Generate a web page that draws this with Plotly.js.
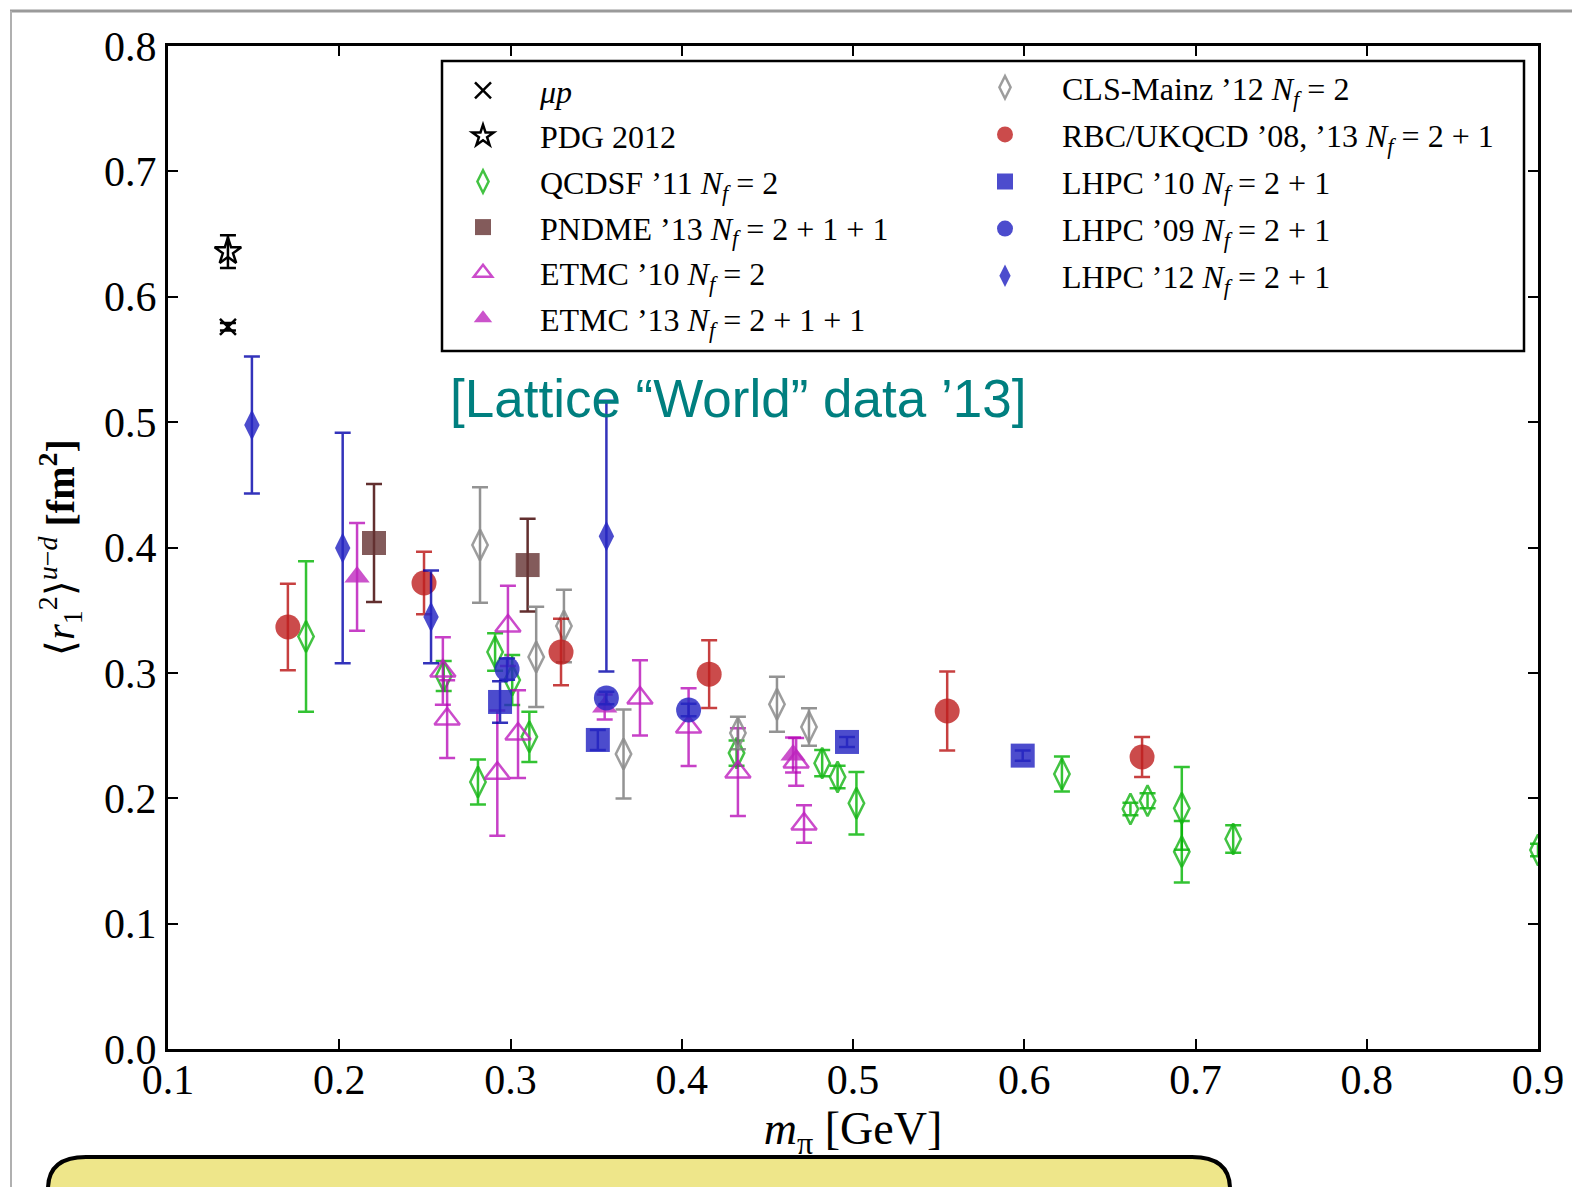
<!DOCTYPE html>
<html>
<head>
<meta charset="utf-8">
<script src="https://cdn.plot.ly/plotly-3.0.1.min.js"></script>
<style>html,body{margin:0;padding:0;background:#fff;}#chart{width:1572px;height:1187px;}</style>
</head>
<body>
<div id="chart"></div>
<script>
// ---- data ----
const muP_x = [0.135], muP_y = [0.576], muP_err = [0.003];
const pdg_x = [0.135], pdg_y = [0.636], pdg_err = [0.013];

const qcdsf_x = [0.1806, 0.2610, 0.281, 0.291, 0.301, 0.311, 0.432, 0.482, 0.491, 0.502, 0.622, 0.662, 0.672, 0.692, 0.692, 0.722, 0.900];
const qcdsf_y = [0.329, 0.2975, 0.213, 0.3166, 0.2943, 0.249, 0.236, 0.228, 0.217, 0.196, 0.2193, 0.1914, 0.198, 0.192, 0.1574, 0.1675, 0.1587];
const qcdsf_err = [0.060, 0.012, 0.018, 0.015, 0.020, 0.020, 0.010, 0.0105, 0.009, 0.025, 0.014, 0.005, 0.006, 0.033, 0.0245, 0.011, 0.005];

const pndme_x = [0.2203, 0.310];
const pndme_y = [0.4036, 0.386];
const pndme_err = [0.047, 0.037];

const etmc10_x = [0.2605, 0.263, 0.2923, 0.2985, 0.3044, 0.3756, 0.404, 0.4328, 0.4714, 0.4668];
const etmc10_y = [0.3015, 0.2632, 0.220, 0.3374, 0.2512, 0.280, 0.2568, 0.2209, 0.1795, 0.2290];
const etmc10_err = [0.027, 0.031, 0.050, 0.032, 0.035, 0.030, 0.031, 0.035, 0.015, 0.019];

const etmc13_x = [0.2104, 0.355, 0.4650];
const etmc13_y = [0.3765, 0.2728, 0.2345];
const etmc13_err = [0.043, 0.010, 0.014];

const cls_x = [0.2822, 0.315, 0.3312, 0.366, 0.4328, 0.4556, 0.4743];
const cls_y = [0.402, 0.3127, 0.3374, 0.2353, 0.252, 0.275, 0.2568];
const cls_err = [0.046, 0.040, 0.029, 0.0355, 0.013, 0.022, 0.015];

const rbc_x = [0.170, 0.2495, 0.3295, 0.416, 0.555, 0.6688];
const rbc_y = [0.3366, 0.3717, 0.3166, 0.299, 0.2696, 0.2329];
const rbc_err = [0.0345, 0.025, 0.0265, 0.027, 0.0315, 0.016];

const lhpc10_x = [0.2939, 0.351, 0.4965, 0.5991];
const lhpc10_y = [0.2768, 0.2465, 0.2449, 0.234];
const lhpc10_err = [0.0165, 0.008, 0.004, 0.004];

const lhpc09_x = [0.298, 0.356, 0.404];
const lhpc09_y = [0.303, 0.280, 0.2704];
const lhpc09_err = [0.0085, 0.005, 0.005];

const lhpc12_x = [0.149, 0.202, 0.2536, 0.356];
const lhpc12_y = [0.4977, 0.3996, 0.3446, 0.409];
const lhpc12_err = [0.0546, 0.092, 0.037, 0.108];

const xTicks = [0.1, 0.2, 0.3, 0.4, 0.5, 0.6, 0.7, 0.8, 0.9];
const yTicks = [0.0, 0.1, 0.2, 0.3, 0.4, 0.5, 0.6, 0.7, 0.8];

// ---- styles ----
const NF = '<i>N</i><sub><i>f</i></sub>';
const BLUE = 'rgba(40,40,195,0.83)', BLUE_E = 'rgba(0,0,170,0.8)';

function tr(name, xs, ys, errs, sym, size, color, ecolor, open, legend, rank) {
  return {
    type: 'scatter', mode: 'markers', name: name, x: xs, y: ys,
    legend: legend, legendgroup: name, legendrank: rank,
    marker: {symbol: sym, size: size, color: color,
             line: {width: open ? 2.5 : 0, color: color}},
    error_y: {type: 'data', array: errs, visible: true, color: ecolor, thickness: 2.5, width: 8},
    hoverinfo: 'x+y+name'
  };
}

const traces = [
  tr('<i>μp</i>', muP_x, muP_y, muP_err, 'x-thin-open', 16, 'black', 'black', true, 'legend', 1),
  tr('PDG 2012', pdg_x, pdg_y, pdg_err, 'star-open', 20, 'black', 'black', true, 'legend', 2),
  tr('QCDSF ’11 ' + NF + ' = 2', qcdsf_x, qcdsf_y, qcdsf_err, 'diamond-tall-open', 22, 'rgba(20,180,20,0.8)', 'rgba(0,180,0,0.8)', true, 'legend', 3),
  tr('PNDME ’13 ' + NF + ' = 2 + 1 + 1', pndme_x, pndme_y, pndme_err, 'square', 24, 'rgba(100,50,50,0.8)', 'rgba(70,10,10,0.85)', false, 'legend', 4),
  tr('ETMC ’10 ' + NF + ' = 2', etmc10_x, etmc10_y, etmc10_err, 'triangle-up-open', 22, 'rgba(190,30,190,0.8)', 'rgba(180,0,180,0.75)', true, 'legend', 5),
  tr('ETMC ’13 ' + NF + ' = 2 + 1 + 1', etmc13_x, etmc13_y, etmc13_err, 'triangle-up', 22, 'rgba(190,40,190,0.8)', 'rgba(180,0,180,0.75)', false, 'legend', 6),
  tr('CLS-Mainz ’12 ' + NF + ' = 2', cls_x, cls_y, cls_err, 'diamond-tall-open', 22, 'rgba(140,140,140,0.85)', 'rgba(120,120,120,0.8)', true, 'legend2', 7),
  tr('RBC/UKQCD ’08, ’13 ' + NF + ' = 2 + 1', rbc_x, rbc_y, rbc_err, 'circle', 25, 'rgba(190,30,30,0.8)', 'rgba(180,0,0,0.75)', false, 'legend2', 8),
  tr('LHPC ’10 ' + NF + ' = 2 + 1', lhpc10_x, lhpc10_y, lhpc10_err, 'square', 24, BLUE, BLUE_E, false, 'legend2', 9),
  tr('LHPC ’09 ' + NF + ' = 2 + 1', lhpc09_x, lhpc09_y, lhpc09_err, 'circle', 25, BLUE, BLUE_E, false, 'legend2', 10),
  tr('LHPC ’12 ' + NF + ' = 2 + 1', lhpc12_x, lhpc12_y, lhpc12_err, 'diamond-tall', 22, BLUE, BLUE_E, false, 'legend2', 11)
];

// plot-area geometry helpers (paper units)
const L = 168, R = 1538, T = 46, B = 1049;
const px = v => (v - L) / (R - L);
const py = v => (B - v) / (B - T);

const legFont = {family: 'Liberation Serif, Times New Roman, serif', size: 32, color: 'black'};
const legCommon = {font: legFont, bgcolor: 'rgba(0,0,0,0)', borderwidth: 0,
  traceorder: 'grouped', itemwidth: 104, xanchor: 'left', yanchor: 'top'};

const yb0 = py(1157), yb1 = py(1230);
const xb0 = px(48), xb1 = px(1230);
const rx = 38 / (R - L), ry = 32 / (B - T);
const boxPath = `M${xb0},${yb1} L${xb0},${yb0 - ry} Q${xb0},${yb0} ${xb0 + rx},${yb0} L${xb1 - rx},${yb0} Q${xb1},${yb0} ${xb1},${yb0 - ry} L${xb1},${yb1} Z`;

const serif = 'Liberation Serif, Times New Roman, serif';
const axisCommon = {
  showline: true, mirror: 'ticks', linecolor: 'black', linewidth: 3,
  ticks: 'inside', ticklen: 10, tickwidth: 2, tickcolor: 'black',
  showgrid: false, zeroline: false, tickformat: '.1f',
  tickfont: {family: serif, size: 42, color: 'black'}
};

const layout = {
  width: 1572, height: 1187,
  margin: {l: L, r: 1572 - R, t: T, b: 1187 - B, pad: 0},
  paper_bgcolor: 'white', plot_bgcolor: 'white',
  showlegend: true,
  xaxis: Object.assign({}, axisCommon, {
    range: [0.1, 0.9], tickvals: xTicks, ticklabelstandoff: -8,
    title: {text: '<i>m</i><sub>π</sub> [GeV]', standoff: 2,
            font: {family: serif, size: 46, color: 'black'}}
  }),
  yaxis: Object.assign({}, axisCommon, {
    range: [0, 0.8], tickvals: yTicks,
    title: {text: '⟨<i>r</i><sub>1</sub><sup>2</sup>⟩<sup><i>u</i>−<i>d</i></sup> <b>[fm<sup>2</sup>]</b>', standoff: 18,
            font: {family: serif, size: 40, color: 'black'}}
  }),
  legend: Object.assign({}, legCommon, {x: px(426), y: py(63), tracegroupgap: 1}),
  legend2: Object.assign({}, legCommon, {x: px(948), y: py(60), tracegroupgap: 2.5}),
  shapes: [
    {type: 'rect', xref: 'paper', yref: 'paper', x0: px(442), x1: px(1524), y0: py(351), y1: py(61),
     line: {color: 'black', width: 2.5}, fillcolor: 'white', layer: 'above'},
    {type: 'line', xref: 'paper', yref: 'paper', x0: px(10), x1: px(1572), y0: py(11), y1: py(11),
     line: {color: '#9a9a9a', width: 3}},
    {type: 'line', xref: 'paper', yref: 'paper', x0: px(11), x1: px(11), y0: py(11), y1: py(1187),
     line: {color: '#b0b0b0', width: 2}},
    {type: 'path', xref: 'paper', yref: 'paper', path: boxPath,
     line: {color: 'black', width: 4}, fillcolor: '#EEE68A'}
  ],
  annotations: [
    {xref: 'paper', yref: 'paper', x: px(738), y: py(398), xanchor: 'center', yanchor: 'middle',
     text: '[Lattice “World” data ’13]', showarrow: false,
     font: {family: 'Liberation Sans, Arial, sans-serif', size: 53, color: '#007F7F'}}
  ]
};

Plotly.newPlot('chart', traces, layout, {displayModeBar: false, staticPlot: true});
</script>
</body>
</html>
